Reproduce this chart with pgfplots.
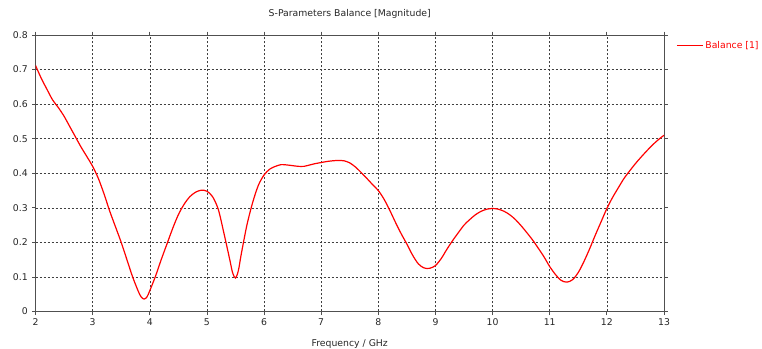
\documentclass[border=0pt]{standalone}
\usepackage{pgfplots}
\pgfplotsset{compat=1.18}
\usepackage{fontspec}
\setmainfont{DejaVu Sans}
\definecolor{axgray}{HTML}{505050}
\definecolor{gridc}{HTML}{404040}
\begin{document}
\fontsize{9.3bp}{11bp}\selectfont
\begin{tikzpicture}
\useasboundingbox (0,0) rectangle (762bp,349bp);
\begin{axis}[
  at={(35.5bp,37.5bp)}, anchor=south west,
  scale only axis, width=628.5bp, height=276.5bp,
  xmin=2, xmax=13, ymin=0, ymax=0.8,
  xtick={2,...,13}, ytick={0,0.1,...,0.8},
  /pgf/number format/assume math mode=true,
  yticklabel style={/pgf/number format/fixed, /pgf/number format/precision=1, text=black!85, xshift=-1bp},
  xticklabel style={text=black!85},
  tick align=outside, major tick length=3.5bp,
  tick style={axgray, line width=0.8bp},
  axis line style={axgray, line width=1bp},
  grid=major,
  major grid style={gridc, dash pattern=on 2bp off 2bp, line width=0.5bp},
  title={S-Parameters Balance [Magnitude]},
  title style={at={(0.5,1)}, anchor=base, yshift=13bp, text=black!85},
  xlabel={Frequency / GHz},
  xlabel style={at={(0.5,0)}, anchor=base, yshift=-35bp, text=black!85},
  legend style={at={(rel axis cs:1,1)}, xshift=12bp, yshift=-4bp, anchor=north west, draw=none, fill=none, font=\fontsize{9.3bp}{11bp}\selectfont, text=red, inner sep=0pt},
  legend image code/.code={\draw[#1] (0bp,0bp) -- (26bp,0bp);},
]
\addplot[red, line width=1.2bp, smooth, tension=0.5] coordinates {
(2.0,0.712)(2.1,0.675)(2.2,0.643)(2.3,0.612)(2.4,0.590)(2.5,0.565)(2.6,0.535)(2.7,0.505)(2.8,0.475)(2.9,0.448)
(3.0,0.420)(3.1,0.385)(3.2,0.340)(3.3,0.290)(3.4,0.245)(3.5,0.200)(3.6,0.150)(3.7,0.100)(3.8,0.058)(3.85,0.042)
(3.9,0.036)(3.95,0.042)(4.0,0.060)(4.1,0.102)(4.2,0.150)(4.3,0.195)(4.4,0.240)(4.5,0.280)(4.6,0.310)(4.7,0.332)
(4.8,0.345)(4.9,0.351)(5.0,0.348)(5.1,0.332)(5.2,0.295)(5.3,0.225)(5.4,0.150)(5.45,0.112)(5.5,0.097)
(5.55,0.118)(5.6,0.165)(5.7,0.250)(5.8,0.315)(5.9,0.365)(6.0,0.395)(6.1,0.412)(6.2,0.420)(6.3,0.425)(6.4,0.424)
(6.5,0.422)(6.6,0.420)(6.7,0.420)(6.8,0.424)(6.9,0.428)(7.0,0.431)(7.1,0.434)(7.2,0.436)(7.3,0.437)(7.4,0.436)
(7.5,0.430)(7.6,0.418)(7.7,0.402)(7.8,0.385)(7.9,0.367)(8.0,0.350)(8.1,0.325)(8.2,0.293)(8.3,0.258)(8.4,0.225)
(8.5,0.195)(8.6,0.163)(8.7,0.138)(8.8,0.126)(8.9,0.125)(9.0,0.133)(9.1,0.153)(9.2,0.180)(9.3,0.205)(9.4,0.228)
(9.5,0.250)(9.6,0.266)(9.7,0.280)(9.8,0.290)(9.9,0.296)(10.0,0.298)(10.1,0.296)(10.2,0.290)(10.3,0.280)
(10.4,0.266)(10.5,0.248)(10.6,0.228)(10.7,0.207)(10.8,0.183)(10.9,0.158)(11.0,0.130)(11.1,0.107)(11.2,0.090)
(11.3,0.085)(11.4,0.092)(11.5,0.113)(11.6,0.145)(11.7,0.182)(11.8,0.222)(11.9,0.260)(12.0,0.298)(12.1,0.330)
(12.2,0.358)(12.3,0.385)(12.4,0.407)(12.5,0.428)(12.6,0.447)(12.7,0.465)(12.8,0.482)(12.9,0.497)(13.0,0.510)
};
\addlegendentry{Balance [1]}
\end{axis}
\end{tikzpicture}
\end{document}
